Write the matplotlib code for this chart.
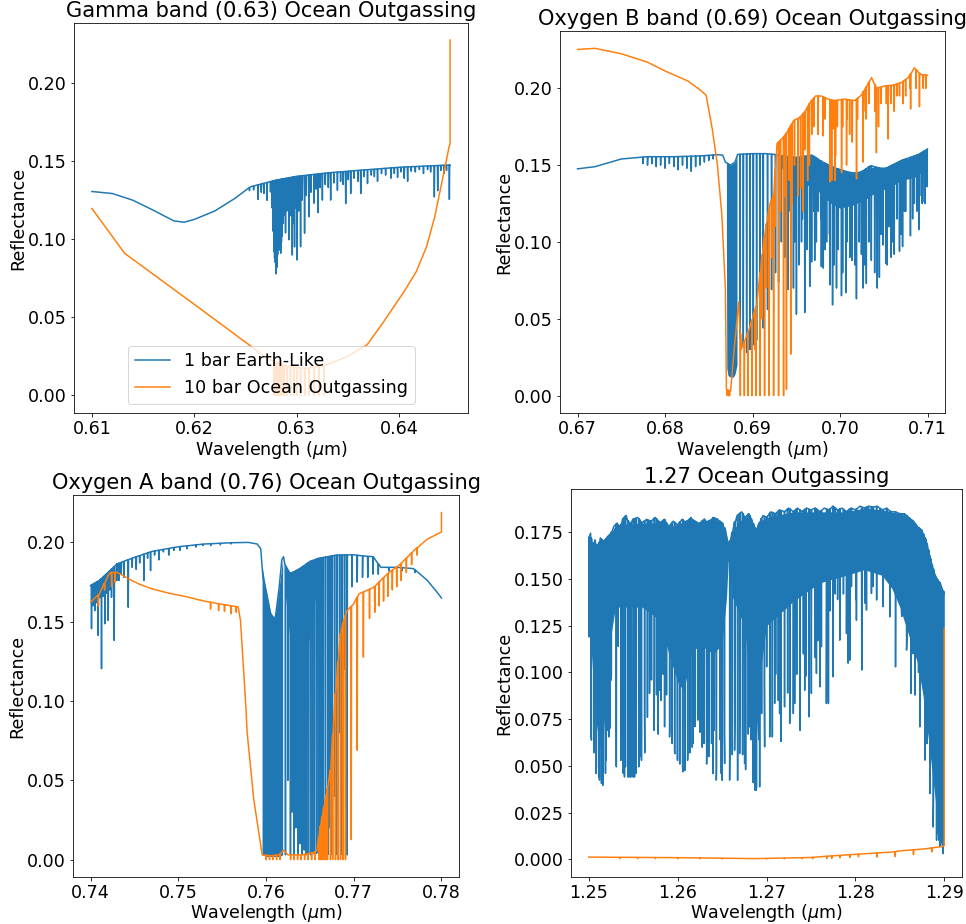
import numpy as np
import matplotlib
matplotlib.use("Agg")
import matplotlib.pyplot as plt

plt.rcParams["font.family"] = ["DejaVu Sans"]
plt.rcParams["font.size"] = 17.5
plt.rcParams["axes.labelpad"] = 0.5

C_EARTH = "#1f77b4"
C_OCEAN = "#ff7f0e"
LABEL_EARTH = "1 bar Earth-Like"
LABEL_OCEAN = "10 bar Ocean Outgassing"
XLABEL = r"Wavelength ($\mu$m)"
YLABEL = "Reflectance"

# ======================= Panel 1: Gamma band =======================
g_title = "Gamma band (0.63) Ocean Outgassing"
g_xticks = [0.61, 0.62, 0.63, 0.64]
g_yticks = [0.00, 0.05, 0.10, 0.15, 0.20]
g_earth_cx = [0.610, 0.612, 0.614, 0.616, 0.618, 0.619, 0.620, 0.622, 0.624, 0.6255, 0.628, 0.630, 0.633, 0.636, 0.640, 0.645]
g_earth_cy = [0.1305, 0.1292, 0.1249, 0.1185, 0.1117, 0.1108, 0.1126, 0.1180, 0.1262, 0.1335, 0.1378, 0.1402, 0.1424, 0.1440, 0.1460, 0.1475]
g_earth_lx = [0.62540, 0.62580, 0.62624, 0.62655, 0.62680, 0.62712, 0.62745, 0.62760,
              0.62771, 0.62778, 0.62785, 0.62792, 0.62801, 0.62808, 0.62815, 0.62822, 0.62830, 0.62838,
              0.62845, 0.62852, 0.62860, 0.62870, 0.62876, 0.62892, 0.62905, 0.62925, 0.62940, 0.62958,
              0.62970, 0.62980, 0.62993, 0.63006, 0.63020, 0.63039, 0.63055, 0.63078, 0.63095, 0.63121,
              0.63140, 0.63170, 0.63190, 0.63209, 0.63230, 0.63252, 0.63280, 0.63310, 0.63333, 0.63365,
              0.63399, 0.63430, 0.63455, 0.63480, 0.63505, 0.63529, 0.63560, 0.63600, 0.63627, 0.63660,
              0.63693, 0.63730, 0.63760, 0.63791, 0.63830, 0.63870, 0.63922, 0.63955, 0.63987, 0.64020,
              0.64052, 0.64085, 0.64120, 0.64160, 0.64200, 0.64240, 0.64280, 0.64310, 0.64346, 0.64379,
              0.64410, 0.64440, 0.64465, 0.64493]
g_earth_lm = [0.131, 0.1315, 0.1254, 0.130, 0.1292, 0.1249, 0.1302, 0.120,
              0.105, 0.092, 0.088, 0.085, 0.0777, 0.082, 0.090, 0.095, 0.093, 0.100,
              0.091, 0.098, 0.102, 0.110, 0.115, 0.104, 0.118, 0.0996, 0.115, 0.0898,
              0.110, 0.095, 0.120, 0.0866, 0.118, 0.0951, 0.125, 0.1038, 0.128, 0.1143,
              0.130, 0.1230, 0.132, 0.117, 0.133, 0.125, 0.135, 0.133, 0.125, 0.136,
              0.1313, 0.137, 0.135, 0.1228, 0.138, 0.1292, 0.139, 0.137, 0.1292, 0.140,
              0.1356, 0.141, 0.140, 0.137, 0.142, 0.141, 0.139, 0.142, 0.1395, 0.143,
              0.139, 0.137, 0.1435, 0.143, 0.1445, 0.142, 0.1445, 0.143, 0.127, 0.131,
              0.144, 0.142, 0.144, 0.1254]
g_earth_bx = [0.62766, 0.62785, 0.62800, 0.62820, 0.62840, 0.62860, 0.62880]
g_earth_blo = [0.125, 0.100, 0.093, 0.095, 0.100, 0.108, 0.125]
g_ocean_cx = [0.6100, 0.6132, 0.6203, 0.6268, 0.6280, 0.6295, 0.6310, 0.6330, 0.6350, 0.6369,
              0.6385, 0.6405, 0.6417, 0.6427, 0.6435, 0.6441, 0.6449, 0.6450, 0.6450]
g_ocean_cy = [0.1196, 0.0909, 0.0568, 0.0253, 0.0210, 0.0180, 0.0172, 0.0196, 0.0250, 0.0324,
              0.0470, 0.0664, 0.0792, 0.0951, 0.1143, 0.1334, 0.1590, 0.1610, 0.2275]
g_ocean_lx = [0.62778, 0.62786, 0.62794, 0.62802, 0.62810, 0.62818, 0.62826, 0.62834, 0.62842,
              0.62850, 0.62858, 0.62866, 0.62876, 0.62909, 0.62941, 0.62974, 0.63006, 0.63039,
              0.63080, 0.63121, 0.63170, 0.63219, 0.63268]
g_ocean_lm = [0.0] * 23

# ======================= Panel 2: Oxygen B band =======================
b_title = "Oxygen B band (0.69) Ocean Outgassing"
b_xticks = [0.67, 0.68, 0.69, 0.70, 0.71]
b_yticks = [0.00, 0.05, 0.10, 0.15, 0.20]
b_earth_cx = [0.6700, 0.6720, 0.6750, 0.6780, 0.6810, 0.6840, 0.6860, 0.6866, 0.6869, 0.6875, 0.6880,
              0.6883, 0.6900, 0.6915, 0.6925, 0.6935, 0.6950, 0.6968, 0.6980, 0.6995, 0.7010, 0.7022,
              0.7035, 0.7050, 0.7070, 0.7090, 0.7100]
b_earth_cy = [0.1476, 0.1490, 0.1540, 0.1555, 0.1555, 0.1560, 0.1568, 0.1565, 0.1520, 0.1500, 0.1520,
              0.1570, 0.1575, 0.1575, 0.1570, 0.1560, 0.1550, 0.1565, 0.1520, 0.1480, 0.1454, 0.1445,
              0.1497, 0.1473, 0.1530, 0.1570, 0.1605]
b_earth_lx = [0.6775, 0.6780, 0.6785, 0.6790, 0.6795, 0.6800, 0.6805, 0.6810, 0.6815, 0.6820, 0.6825,
              0.6830, 0.6835, 0.6840, 0.6845, 0.6850, 0.6855,
              0.68857, 0.68895, 0.68933, 0.68971, 0.69009, 0.69047, 0.69085, 0.69122, 0.69172, 0.69218,
              0.69263, 0.69298, 0.69330, 0.69369, 0.69407, 0.69440, 0.69468, 0.69502, 0.69530, 0.69560,
              0.69597, 0.69625, 0.69654, 0.69676, 0.69711, 0.69752, 0.69787, 0.69809, 0.69847, 0.69885,
              0.69915, 0.69960, 0.70017, 0.70066, 0.70112, 0.70138, 0.70188, 0.70245, 0.70263, 0.70301,
              0.70358, 0.70396, 0.70426, 0.70450, 0.70490, 0.70526, 0.70539, 0.70585, 0.70620, 0.70680,
              0.70715, 0.70737, 0.70805, 0.70850, 0.70900, 0.70940, 0.70964, 0.70994]
b_earth_lm = [0.151, 0.150, 0.151, 0.149, 0.150, 0.148, 0.151, 0.149, 0.147, 0.150, 0.148,
              0.146, 0.149, 0.150, 0.152, 0.153, 0.154,
              0.037, 0.032, 0.028, 0.030, 0.033, 0.036, 0.040, 0.044, 0.056, 0.069,
              0.080, 0.074, 0.100, 0.090, 0.069, 0.110, 0.070, 0.053, 0.085, 0.100,
              0.054, 0.095, 0.071, 0.087, 0.088, 0.120, 0.084, 0.083, 0.100, 0.072,
              0.059, 0.070, 0.065, 0.067, 0.090, 0.088, 0.063, 0.092, 0.070, 0.073,
              0.088, 0.080, 0.070, 0.077, 0.098, 0.086, 0.085, 0.090, 0.092, 0.094,
              0.097, 0.120, 0.104, 0.125, 0.108, 0.125, 0.126, 0.136]
b_earth_l2x = [0.6937, 0.6943, 0.6948, 0.6957, 0.6962, 0.6970, 0.6973, 0.6978, 0.6983, 0.6988,
               0.6993, 0.6998, 0.7003, 0.7008, 0.7013, 0.7017, 0.7022, 0.7028, 0.7033, 0.7042,
               0.7047, 0.7056, 0.7060, 0.7065, 0.7070, 0.7075, 0.7083, 0.7088, 0.7093, 0.7097]
b_earth_l2m = [0.110, 0.120, 0.100, 0.115, 0.105, 0.120, 0.100, 0.115, 0.095, 0.105,
               0.085, 0.095, 0.080, 0.100, 0.095, 0.085, 0.100, 0.085, 0.100, 0.095,
               0.105, 0.110, 0.100, 0.115, 0.105, 0.120, 0.115, 0.120, 0.130, 0.125]
b_earth_bx = [0.68702, 0.68706, 0.68720, 0.68750, 0.68780, 0.68800, 0.68823]
b_earth_blo = [0.100, 0.018, 0.013, 0.012, 0.012, 0.014, 0.020]
b_earth_b2x = [0.6932, 0.6940, 0.6955, 0.6968, 0.6980, 0.6990, 0.7000, 0.7015, 0.7030, 0.7040, 0.7055, 0.7070, 0.7085, 0.7100]
b_earth_b2lo = [0.150, 0.140, 0.135, 0.138, 0.130, 0.125, 0.122, 0.124, 0.128, 0.132, 0.135, 0.140, 0.142, 0.148]
b_ocean_cx = [0.6700, 0.6720, 0.6750, 0.6780, 0.6800, 0.6826, 0.6840, 0.6847, 0.6854, 0.6860, 0.6865,
              0.6869, 0.68702, 0.6875, 0.6879, 0.68843, 0.6887, 0.6894, 0.6900, 0.6905, 0.6913, 0.6920,
              0.6924, 0.6928, 0.6935, 0.6939, 0.6947, 0.6954, 0.6960, 0.6966, 0.6972, 0.6979, 0.6986,
              0.6994, 0.7005, 0.7017, 0.7025, 0.7036, 0.7042, 0.7051, 0.7060, 0.7070, 0.7078, 0.7085,
              0.7092, 0.7100]
b_ocean_cy = [0.2253, 0.2260, 0.2225, 0.2170, 0.2113, 0.2048, 0.1990, 0.1955, 0.1735, 0.1497, 0.1173,
              0.0700, 0.0040, 0.0030, 0.0300, 0.0610, 0.0300, 0.0400, 0.0500, 0.0600, 0.1020, 0.1250,
              0.1300, 0.1640, 0.1680, 0.1710, 0.1790, 0.1810, 0.1850, 0.1910, 0.1950, 0.1950, 0.1930,
              0.1920, 0.1930, 0.1920, 0.1960, 0.2070, 0.2000, 0.2016, 0.2020, 0.2037, 0.2070, 0.2134,
              0.2090, 0.2085]
b_ocean_lx = [0.68712, 0.68725, 0.68738, 0.68861, 0.68907, 0.68948, 0.68994, 0.69039, 0.69088, 0.69138,
              0.69191, 0.69241, 0.69298, 0.69355, 0.69388, 0.69437, 0.69450, 0.69520, 0.69580, 0.69630,
              0.69677, 0.69750, 0.69808, 0.69886, 0.69905, 0.69920, 0.69943, 0.69949, 0.70018, 0.70030,
              0.70075, 0.70110, 0.70189, 0.70265, 0.70300, 0.70416, 0.70470, 0.70550, 0.70580, 0.70650,
              0.70720, 0.70807, 0.70908, 0.70950]
b_ocean_lm = [0.0, 0.0, 0.0, 0.0, 0.0, 0.0, 0.0, 0.0, 0.0, 0.0,
              0.0, 0.0, 0.0, 0.0, 0.004, 0.027, 0.125, 0.130, 0.120, 0.140,
              0.170, 0.170, 0.169, 0.139, 0.140, 0.1735, 0.140, 0.156, 0.145, 0.175,
              0.150, 0.170, 0.141, 0.152, 0.180, 0.158, 0.190, 0.167, 0.190, 0.195,
              0.190, 0.1865, 0.188, 0.200]
b_ocean_l2x = [0.6903, 0.6911, 0.6916, 0.6922, 0.6926, 0.6932, 0.6937, 0.6942, 0.6948, 0.6955,
               0.6960, 0.6965, 0.6970, 0.6983, 0.6997, 0.7008, 0.7014, 0.7020, 0.7027, 0.7033,
               0.7040, 0.7044, 0.7053, 0.7062, 0.7068, 0.7075, 0.7080, 0.7087, 0.7098]
b_ocean_l2m = [0.030, 0.050, 0.070, 0.090, 0.110, 0.120, 0.130, 0.140, 0.150, 0.135,
               0.160, 0.150, 0.175, 0.180, 0.175, 0.180, 0.165, 0.180, 0.185, 0.190,
               0.185, 0.175, 0.190, 0.185, 0.195, 0.195, 0.200, 0.200, 0.200]

# ======================= Panel 3: Oxygen A band =======================
a_title = "Oxygen A band (0.76) Ocean Outgassing"
a_xticks = [0.74, 0.75, 0.76, 0.77, 0.78]
a_yticks = [0.00, 0.05, 0.10, 0.15, 0.20]
a_earth_cx = [0.7400, 0.7410, 0.7420, 0.7430, 0.7450, 0.7470, 0.7500, 0.7530, 0.7560, 0.7580, 0.7590,
              0.7594, 0.75965, 0.7600, 0.7605, 0.7608, 0.7611, 0.7615, 0.7618, 0.7620, 0.7624, 0.7630,
              0.7640, 0.7650, 0.7660, 0.7680, 0.7700, 0.7710, 0.7722, 0.7731, 0.7750, 0.7768, 0.7784,
              0.7795, 0.7800]
a_earth_cy = [0.1728, 0.1760, 0.1811, 0.1864, 0.1906, 0.1943, 0.1973, 0.1990, 0.1998, 0.2000, 0.1990,
              0.1960, 0.1780, 0.1700, 0.1560, 0.1490, 0.1540, 0.1717, 0.1890, 0.1910, 0.1800, 0.1810,
              0.1840, 0.1880, 0.1900, 0.1920, 0.1922, 0.1915, 0.1910, 0.1843, 0.1843, 0.1835, 0.1760,
              0.1686, 0.1650]
a_earth_lx = [0.74011, 0.74030, 0.74049, 0.74068, 0.74087, 0.74105, 0.74125, 0.74145, 0.74163, 0.74183,
              0.74202, 0.74220, 0.74239, 0.74270, 0.74300, 0.74323, 0.74350, 0.74380, 0.74430, 0.74475,
              0.74521, 0.74560, 0.74608, 0.74650, 0.74684, 0.74730, 0.74779, 0.74830, 0.74892, 0.74950,
              0.75020, 0.75100, 0.75200, 0.75280, 0.75370, 0.75480, 0.75600]
a_earth_lm = [0.1456, 0.160, 0.157, 0.162, 0.1414, 0.165, 0.1204, 0.166, 0.1487, 0.168,
              0.1508, 0.170, 0.1654, 0.1382, 0.176, 0.176, 0.180, 0.178, 0.1591, 0.1843,
              0.183, 0.187, 0.176, 0.190, 0.1822, 0.192, 0.189, 0.194, 0.192, 0.195,
              0.195, 0.196, 0.197, 0.198, 0.198, 0.1985, 0.199]
a_earth_l2x = [0.76222, 0.76250, 0.76279, 0.76298, 0.76317, 0.76340, 0.76363, 0.76388, 0.76412, 0.76435,
               0.76458, 0.76482, 0.76507, 0.76530, 0.76553, 0.76578, 0.76602, 0.76627, 0.76652, 0.76678,
               0.76705, 0.76730, 0.76754, 0.76782, 0.76811, 0.76840, 0.76868, 0.76896, 0.76925]
a_earth_l2m = [0.003, 0.050, 0.003, 0.030, 0.003, 0.020, 0.003, 0.010, 0.003, 0.006,
               0.003, 0.004, 0.003, 0.004, 0.003, 0.004, 0.003, 0.005, 0.003, 0.010,
               0.003, 0.020, 0.003, 0.040, 0.003, 0.080, 0.003, 0.120, 0.003]
a_earth_l3x = [0.76980, 0.77040, 0.77100, 0.77160, 0.77220, 0.77280, 0.77400, 0.77550, 0.77700]
a_earth_l3m = [0.172, 0.175, 0.178, 0.178, 0.180, 0.180, 0.182, 0.182, 0.181]
a_earth_bx = [0.75955, 0.76000, 0.76050, 0.76100, 0.76150, 0.76190]
a_earth_blo = [0.003, 0.002, 0.002, 0.002, 0.002, 0.003]
a_earth_b2x = [0.76215, 0.7628, 0.7635, 0.7642, 0.7650, 0.7655, 0.7660]
a_earth_b2lo = [0.170, 0.135, 0.126, 0.128, 0.140, 0.160, 0.180]
a_earth_b3x = [0.7400, 0.7410, 0.7420, 0.7428]
a_earth_b3lo = [0.162, 0.166, 0.171, 0.178]
a_ocean_cx = [0.7400, 0.7410, 0.7420, 0.74228, 0.74304, 0.74437, 0.7455, 0.74703, 0.74892, 0.75083,
              0.75273, 0.75462, 0.75652, 0.75683, 0.75709, 0.75766, 0.75786, 0.75861, 0.75957, 0.7605,
              0.7615, 0.7620, 0.7625, 0.7640, 0.7655, 0.7658, 0.7662, 0.7670, 0.76735, 0.76773,
              0.76811, 0.76849, 0.76887, 0.76925, 0.7700, 0.77058, 0.77229, 0.77381, 0.77533, 0.77684,
              0.77837, 0.77989, 0.7800, 0.7800]
a_ocean_cy = [0.1623, 0.1675, 0.1790, 0.1811, 0.1811, 0.1770, 0.1738, 0.1707, 0.1680, 0.1659,
              0.1633, 0.1613, 0.1596, 0.1593, 0.1508, 0.1005, 0.0796, 0.0377, 0.0030, 0.0025,
              0.0030, 0.0060, 0.0030, 0.0030, 0.0045, 0.0060, 0.0210, 0.0450, 0.0565, 0.0900,
              0.1190, 0.1424, 0.1510, 0.1570, 0.1613, 0.1675, 0.1717, 0.1801, 0.1864, 0.1948,
              0.2020, 0.2063, 0.2065, 0.2188]
a_ocean_lx = [0.7409, 0.7416, 0.7424, 0.7428, 0.75368, 0.7546, 0.75527, 0.75603, 0.7566,
              0.7600, 0.7604, 0.7608, 0.7612, 0.7616, 0.7628, 0.7632, 0.7636, 0.7640, 0.7644, 0.7648,
              0.7652, 0.7656, 0.76602, 0.76620, 0.76640, 0.76660, 0.76684, 0.76700, 0.76735, 0.76760,
              0.76792, 0.76820, 0.76849, 0.76880, 0.76906, 0.76972,
              0.77040, 0.77110, 0.77180, 0.7724, 0.7729, 0.7734, 0.7739, 0.7744, 0.7749, 0.7754,
              0.7760, 0.7766, 0.7772]
a_ocean_lm = [0.160, 0.170, 0.172, 0.175, 0.158, 0.157, 0.1565, 0.155, 0.156,
              0.0, 0.0, 0.0, 0.0, 0.0, 0.0, 0.0, 0.0, 0.0, 0.0, 0.0,
              0.0, 0.0, 0.0, 0.0, 0.0, 0.0, 0.0, 0.0, 0.0, 0.0,
              0.0, 0.0, 0.0, 0.0, 0.0, 0.0126,
              0.069, 0.1277, 0.152, 0.156, 0.160, 0.163, 0.166, 0.170, 0.172, 0.176,
              0.181, 0.186, 0.192]

# ======================= Panel 4: 1.27 band =======================
d_title = "1.27 Ocean Outgassing"
d_xticks = [1.25, 1.26, 1.27, 1.28, 1.29]
d_yticks = [0.000, 0.025, 0.050, 0.075, 0.100, 0.125, 0.150, 0.175]
d_earth_cx = [1.2500, 1.2502, 1.2504, 1.2507, 1.2510, 1.2513, 1.2517, 1.2521, 1.2525, 1.2528, 1.2532,
              1.2535, 1.2538, 1.2542, 1.2546, 1.2550, 1.2555, 1.2560, 1.2565, 1.2570, 1.2575, 1.2580,
              1.2585, 1.2590, 1.2595, 1.2600, 1.2605, 1.2610, 1.2615, 1.2620, 1.2625, 1.2630, 1.2635,
              1.2640, 1.2645, 1.2650, 1.2654, 1.2657, 1.2660, 1.2664, 1.2667, 1.2672, 1.2676, 1.2680,
              1.2684, 1.2688, 1.2692, 1.2696, 1.2700, 1.2705, 1.2710, 1.2715, 1.2720, 1.2725, 1.2730,
              1.2735, 1.2740, 1.2745, 1.2750, 1.2755, 1.2760, 1.2765, 1.2770, 1.2775, 1.2780, 1.2785,
              1.2790, 1.2795, 1.2800, 1.2805, 1.2810, 1.2815, 1.2820, 1.2825, 1.2830, 1.2835, 1.2840,
              1.2845, 1.2850, 1.2855, 1.2860, 1.2865, 1.2870, 1.2875, 1.2880, 1.2885, 1.2890, 1.2895,
              1.2900]
d_earth_cy = [0.1720, 0.1745, 0.1660, 0.1710, 0.1650, 0.1720, 0.1700, 0.1725, 0.1745, 0.1780, 0.1800,
              0.1770, 0.1820, 0.1840, 0.1790, 0.1820, 0.1830, 0.1800, 0.1820, 0.1810, 0.1830, 0.1800,
              0.1820, 0.1780, 0.1810, 0.1790, 0.1820, 0.1800, 0.1830, 0.1780, 0.1800, 0.1820, 0.1790,
              0.1830, 0.1820, 0.1800, 0.1760, 0.1680, 0.1720, 0.1800, 0.1840, 0.1860, 0.1830, 0.1850,
              0.1810, 0.1760, 0.1800, 0.1840, 0.1830, 0.1860, 0.1850, 0.1870, 0.1860, 0.1880, 0.1860,
              0.1880, 0.1860, 0.1880, 0.1870, 0.1880, 0.1860, 0.1880, 0.1870, 0.1890, 0.1870, 0.1880,
              0.1860, 0.1880, 0.1870, 0.1890, 0.1880, 0.1890, 0.1885, 0.1890, 0.1870, 0.1880, 0.1860,
              0.1860, 0.1850, 0.1850, 0.1830, 0.1810, 0.1780, 0.1760, 0.1700, 0.1600, 0.1510, 0.1480,
              0.1423]
# lines read across the whole band (coarse pass)
d_earth_lx = [1.25003, 1.25026, 1.25083, 1.25120, 1.25158, 1.25195, 1.25225, 1.25252, 1.25308, 1.25364,
              1.25402, 1.25458, 1.25515, 1.25571, 1.25627, 1.25684, 1.25740, 1.25796, 1.25853, 1.25909,
              1.25965, 1.26022, 1.26059, 1.26115, 1.26172, 1.26228, 1.26285, 1.26341, 1.26397, 1.26435,
              1.26491, 1.26529, 1.26585, 1.26641, 1.26698, 1.26754, 1.26810, 1.26867, 1.26885, 1.26923,
              1.26979, 1.27036, 1.27092, 1.27148, 1.27205, 1.27261, 1.27317, 1.27374, 1.27430, 1.27505,
              1.27562, 1.27618, 1.27674, 1.27697, 1.27749, 1.27824, 1.27900, 1.27937, 1.28012, 1.28072,
              1.28125, 1.28181, 1.28238, 1.28313, 1.28388, 1.28452, 1.28519, 1.28576, 1.28628, 1.28670,
              1.28726, 1.28782, 1.28805, 1.28839, 1.28876, 1.28914, 1.28951, 1.28989]
d_earth_lm = [0.1190, 0.0655, 0.0459, 0.0424, 0.0396, 0.0531, 0.0655, 0.0959, 0.0504, 0.0637,
              0.0441, 0.0441, 0.0441, 0.0548, 0.0762, 0.0888, 0.1030, 0.0905, 0.0709, 0.0655,
              0.0584, 0.0513, 0.0468, 0.0566, 0.0620, 0.0745, 0.0620, 0.0566, 0.0459, 0.0424,
              0.0459, 0.0513, 0.0424, 0.0584, 0.0566, 0.0513, 0.0709, 0.0548, 0.0370, 0.0388,
              0.0602, 0.0655, 0.0834, 0.0780, 0.0816, 0.0727, 0.0834, 0.0762, 0.0905, 0.0888,
              0.0995, 0.1138, 0.0834, 0.0834, 0.0977, 0.1173, 0.1209, 0.1066, 0.1280, 0.1013,
              0.1334, 0.1423, 0.1388, 0.1352, 0.1298, 0.1030, 0.1316, 0.1120, 0.0888, 0.0879,
              0.0709, 0.0531, 0.0619, 0.0352, 0.0173, 0.0102, 0.0066, 0.0030]
# finer pass, 1.250-1.264
d_earth_l2x = [1.25030, 1.25060, 1.25086, 1.25112, 1.25143, 1.25161, 1.25188, 1.25210, 1.25236, 1.25255,
               1.25311, 1.25331, 1.25361, 1.25387, 1.25413, 1.25443, 1.25473, 1.25500, 1.25530, 1.25563,
               1.25593, 1.25630, 1.25660, 1.25706, 1.25736, 1.25763, 1.25781, 1.25811, 1.25838, 1.25875,
               1.25912, 1.25938, 1.25968, 1.25998, 1.26025, 1.26055, 1.26082, 1.26112, 1.26138, 1.26165,
               1.26195, 1.26225, 1.26251, 1.26277, 1.26300, 1.26330]
d_earth_l2m = [0.0638, 0.0570, 0.0495, 0.0440, 0.0406, 0.0420, 0.0460, 0.0690, 0.0700, 0.0990,
               0.0495, 0.1140, 0.0530, 0.0460, 0.0495, 0.0440, 0.0440, 0.0440, 0.0460, 0.0495,
               0.0530, 0.0570, 0.0760, 0.0960, 0.0690, 0.0880, 0.0670, 0.0850, 0.0990, 0.0880,
               0.0690, 0.0620, 0.0565, 0.0530, 0.0510, 0.0495, 0.0476, 0.0530, 0.0570, 0.0600,
               0.0710, 0.0780, 0.0680, 0.0600, 0.0620, 0.0580]
# finer pass, 1.263-1.277
d_earth_l3x = [1.26326, 1.26352, 1.26382, 1.26412, 1.26438, 1.26476, 1.26502, 1.26525, 1.26589, 1.26615,
               1.26645, 1.26675, 1.26701, 1.26731, 1.26765, 1.26795, 1.26825, 1.26851, 1.26870, 1.26889,
               1.26915, 1.26945, 1.26975, 1.27002, 1.27039, 1.27066, 1.27103, 1.27133, 1.27163, 1.27201,
               1.27238, 1.27265, 1.27302, 1.27340, 1.27378, 1.27415, 1.27442, 1.27479, 1.27505, 1.27547,
               1.27577, 1.27603]
d_earth_l3m = [0.0510, 0.0550, 0.0620, 0.0690, 0.0478, 0.0640, 0.0423, 0.0670, 0.0670, 0.0560,
               0.0760, 0.0423, 0.0850, 0.0560, 0.0480, 0.0670, 0.0640, 0.0410, 0.0370, 0.0390,
               0.0640, 0.0780, 0.0920, 0.1030, 0.0890, 0.0655, 0.0990, 0.0850, 0.0631, 0.0820,
               0.0890, 0.1080, 0.0780, 0.0990, 0.0690, 0.1100, 0.0980, 0.0763, 0.1030, 0.1080,
               0.1170, 0.0923]
# finer pass, 1.276-1.290
d_earth_l4x = [1.27678, 1.27715, 1.27772, 1.27800, 1.27828, 1.27866, 1.27890, 1.27919, 1.27956, 1.28006,
               1.28110, 1.28148, 1.28200, 1.28241, 1.28279, 1.28354, 1.28493, 1.28523, 1.28552, 1.28580,
               1.28606, 1.28651, 1.28674, 1.28711, 1.28741, 1.28768, 1.28787, 1.28823, 1.28846, 1.28862,
               1.28880, 1.28899, 1.28922, 1.28929, 1.28941]
d_earth_l4m = [0.1566, 0.1330, 0.1420, 0.1390, 0.1190, 0.1420, 0.1530, 0.1050, 0.1460, 0.1390,
               0.1370, 0.1560, 0.1460, 0.1390, 0.1560, 0.1570, 0.1420, 0.1300, 0.1390, 0.1170,
               0.1250, 0.1100, 0.0888, 0.1000, 0.0960, 0.0990, 0.0850, 0.0700, 0.0730, 0.0640,
               0.0350, 0.0400, 0.0173, 0.0138, 0.0102]
d_earth_bx = [1.2500, 1.2503, 1.2508, 1.2512, 1.2516, 1.2520, 1.2525, 1.2530, 1.2560, 1.2580, 1.2590,
              1.2600, 1.2607, 1.2615, 1.2625, 1.2640, 1.2650, 1.2655, 1.2657, 1.2662, 1.2675, 1.2683,
              1.2688, 1.2693, 1.2700, 1.2730, 1.2760, 1.2790, 1.2810, 1.2830, 1.2841, 1.2850, 1.2860,
              1.2870, 1.2876, 1.2882, 1.2888, 1.2894, 1.2897, 1.2900]
d_earth_blo = [0.130, 0.110, 0.075, 0.060, 0.065, 0.090, 0.120, 0.135, 0.135, 0.128, 0.110,
               0.095, 0.090, 0.110, 0.115, 0.110, 0.115, 0.140, 0.160, 0.140, 0.125, 0.090,
               0.060, 0.100, 0.125, 0.138, 0.148, 0.152, 0.155, 0.152, 0.145, 0.135, 0.120,
               0.105, 0.088, 0.065, 0.040, 0.015, 0.006, 0.012]
d_ocean_cx = [1.2500, 1.2600, 1.2685, 1.2700, 1.2750, 1.2766, 1.2800, 1.2841, 1.2850, 1.2880, 1.2899, 1.2900, 1.2900]
d_ocean_cy = [0.0012, 0.0009, 0.0004, 0.0005, 0.0010, 0.0016, 0.0027, 0.0039, 0.0045, 0.0057, 0.0070, 0.0073, 0.1236]
d_ocean_lx = [1.2535, 1.2555, 1.2575, 1.2600, 1.2625, 1.2650, 1.2700, 1.2720, 1.2740, 1.2752, 1.2768,
              1.27734, 1.27828, 1.27941, 1.28035, 1.28241, 1.28448, 1.28654, 1.28860]
d_ocean_lm = [0.0004, 0.0004, 0.0004, 0.0003, 0.0003, 0.0002, 0.0002, 0.0003, 0.0004, 0.0003, 0.0005,
              0.0005, 0.0008, 0.0010, 0.0014, 0.0012, 0.0015, 0.0025, 0.0040]


def build(cx, cy, line_sets, w):
    """Polyline through the continuum readings with each read absorption line inserted as a spike."""
    cx = np.asarray(cx, float)
    cy = np.asarray(cy, float)
    lx = np.concatenate([np.asarray(a, float) for a, _ in line_sets])
    lm = np.concatenate([np.asarray(b, float) for _, b in line_sets])
    base = np.interp(lx, cx, cy)
    xs = np.concatenate([cx, lx - w, lx, lx + w])
    ys = np.concatenate([cy, base, lm, base])
    o = np.argsort(xs, kind="stable")
    return xs[o], ys[o]


def band(ax, cx, cy, bx, blo, color):
    top = np.interp(bx, cx, cy)
    ax.fill_between(bx, blo, top, color=color, lw=0)


DPI = 72
W, H = 966.0, 924.0
fig = plt.figure(figsize=(W / DPI, H / DPI), dpi=DPI)


def add_ax(left, top, right, bottom):
    return fig.add_axes([left / W, (H - bottom) / H, (right - left) / W, (bottom - top) / H])


LW = 1.5
TITLE_FS = 21

# ---- Panel 1
ax1 = add_ax(74, 23, 468, 413)
x, y = build(g_earth_cx, g_earth_cy, [(g_earth_lx, g_earth_lm)], 0.00003)
ax1.plot(x, y, color=C_EARTH, lw=LW, label=LABEL_EARTH)
band(ax1, g_earth_cx, g_earth_cy, g_earth_bx, g_earth_blo, C_EARTH)
x, y = build(g_ocean_cx, g_ocean_cy, [(g_ocean_lx, g_ocean_lm)], 0.00003)
ax1.plot(x, y, color=C_OCEAN, lw=LW, label=LABEL_OCEAN)
ax1.set_xlim(0.60825, 0.64675)
ax1.set_ylim(-0.01135, 0.2384)
ax1.set_xticks(g_xticks)
ax1.set_yticks(g_yticks)
ax1.set_title(g_title, fontsize=TITLE_FS)
ax1.legend(loc="lower center")

# ---- Panel 2
ax2 = add_ax(560, 31, 945, 413)
x, y = build(b_earth_cx, b_earth_cy, [(b_earth_lx, b_earth_lm), (b_earth_l2x, b_earth_l2m)], 0.00003)
ax2.plot(x, y, color=C_EARTH, lw=LW)
band(ax2, b_earth_cx, b_earth_cy, b_earth_bx, b_earth_blo, C_EARTH)
band(ax2, b_earth_cx, b_earth_cy, b_earth_b2x, b_earth_b2lo, C_EARTH)
x, y = build(b_ocean_cx, b_ocean_cy, [(b_ocean_lx, b_ocean_lm), (b_ocean_l2x, b_ocean_l2m)], 0.00003)
ax2.plot(x, y, color=C_OCEAN, lw=LW)
ax2.set_xlim(0.668, 0.712)
ax2.set_ylim(-0.0113, 0.2373)
ax2.set_xticks(b_xticks)
ax2.set_yticks(b_yticks)
ax2.set_title(b_title, fontsize=TITLE_FS)

# ---- Panel 3
ax3 = add_ax(73, 495, 459, 877)
x, y = build(a_earth_cx, a_earth_cy,
             [(a_earth_lx, a_earth_lm), (a_earth_l2x, a_earth_l2m), (a_earth_l3x, a_earth_l3m)], 0.00003)
ax3.plot(x, y, color=C_EARTH, lw=LW)
band(ax3, a_earth_cx, a_earth_cy, a_earth_bx, a_earth_blo, C_EARTH)
band(ax3, a_earth_cx, a_earth_cy, a_earth_b2x, a_earth_b2lo, C_EARTH)
band(ax3, a_earth_cx, a_earth_cy, a_earth_b3x, a_earth_b3lo, C_EARTH)
x, y = build(a_ocean_cx, a_ocean_cy, [(a_ocean_lx, a_ocean_lm)], 0.00003)
ax3.plot(x, y, color=C_OCEAN, lw=LW)
ax3.set_xlim(0.738, 0.782)
ax3.set_ylim(-0.01095, 0.2299)
ax3.set_xticks(a_xticks)
ax3.set_yticks(a_yticks)
ax3.set_title(a_title, fontsize=TITLE_FS)

# ---- Panel 4
ax4 = add_ax(571, 489, 962, 877)
x, y = build(d_earth_cx, d_earth_cy,
             [(d_earth_lx, d_earth_lm), (d_earth_l2x, d_earth_l2m),
              (d_earth_l3x, d_earth_l3m), (d_earth_l4x, d_earth_l4m)], 0.00004)
ax4.plot(x, y, color=C_EARTH, lw=LW)
band(ax4, d_earth_cx, d_earth_cy, d_earth_bx, d_earth_blo, C_EARTH)
x, y = build(d_ocean_cx, d_ocean_cy, [(d_ocean_lx, d_ocean_lm)], 0.00004)
ax4.plot(x, y, color=C_OCEAN, lw=LW)
ax4.set_xlim(1.248, 1.292)
ax4.set_ylim(-0.00945, 0.1982)
ax4.set_xticks(d_xticks)
ax4.set_yticks(d_yticks)
ax4.set_title(d_title, fontsize=TITLE_FS)

for ax in (ax1, ax2, ax3, ax4):
    ax.set_xlabel(XLABEL)
    ax.set_ylabel(YLABEL)

fig.savefig("out.png", dpi=DPI)
